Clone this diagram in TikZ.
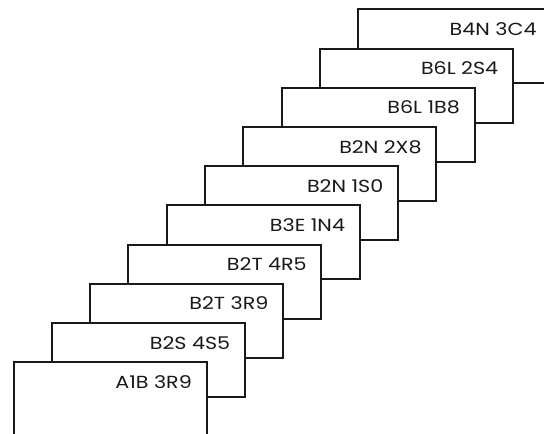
\documentclass[tikz,border=0pt]{standalone}
\usepackage{fontspec}
\setmainfont{Poppins}[FakeStretch=1.18]
\begin{document}
\begin{tikzpicture}[x=1pt,y=-1pt,
  card/.style={draw=black!90,line width=2pt,fill=white,minimum width=193pt,minimum height=74pt,anchor=north west,inner sep=0pt,outer sep=0pt},
  lbl/.style={anchor=base east,inner sep=0pt,font=\fontsize{17.5}{20}\selectfont,text=black!90}]
\useasboundingbox (0,0) rectangle (544,434);
\clip (0,0) rectangle (544,434);
\foreach \i/\t in {9/B4N 3C4,8/B6L 2S4,7/B6L 1B8,6/B2N 2X8,5/B2N 1S0,4/B3E 1N4,3/B2T 4R5,2/B2T 3R9,1/B2S 4S5,0/A1B 3R9}{
  \node[card] (b\i) at ({13.5+38.3*\i},{362.2-39.2*\i}) {};
  \node[lbl] (t\i) at ([xshift=-14.5pt,yshift=-26pt]b\i.north east) {\t};
}
\end{tikzpicture}
\end{document}
